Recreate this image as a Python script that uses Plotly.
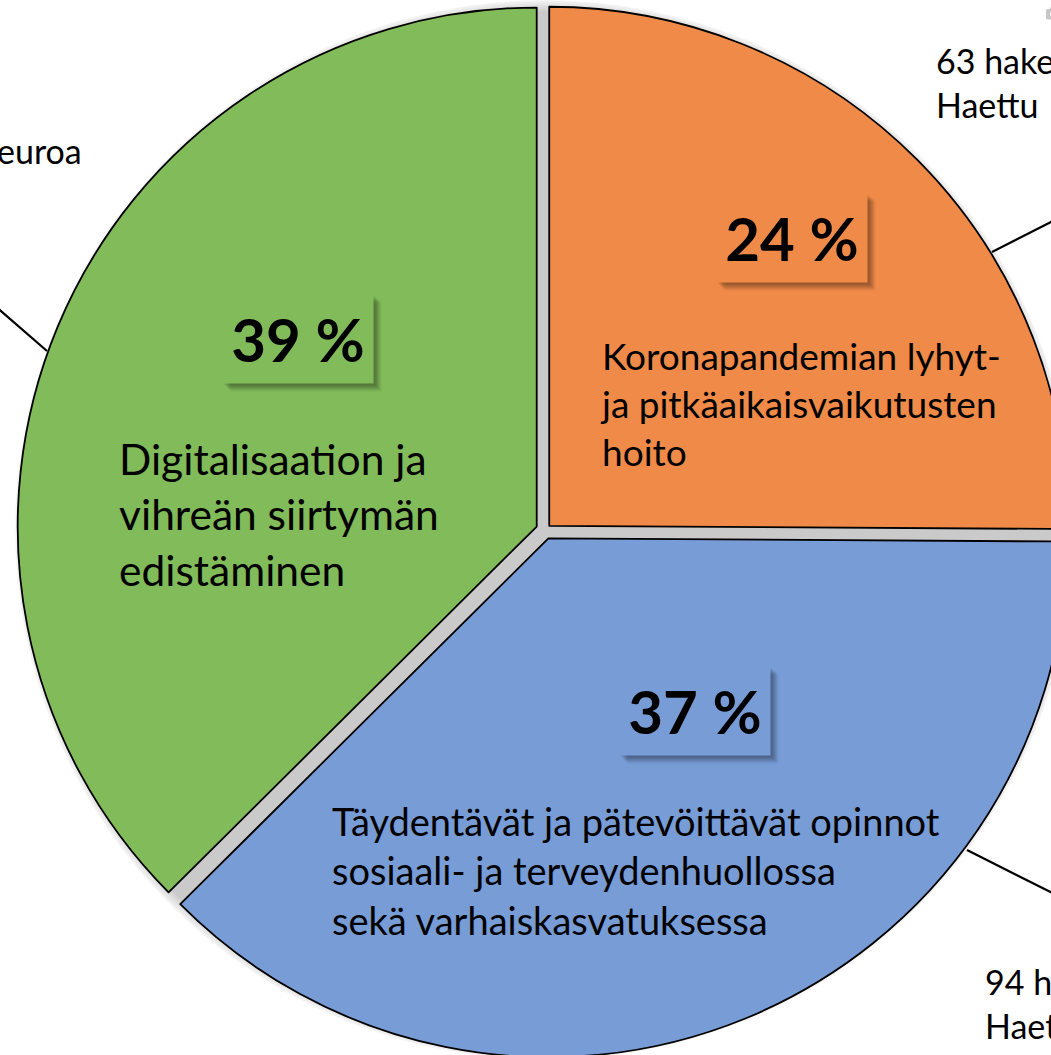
import plotly.graph_objects as go

# ---------------- data ----------------
categories = [
    "Koronapandemian lyhyt- ja pitkäaikaisvaikutusten hoito",
    "Täydentävät ja pätevöittävät opinnot sosiaali- ja terveydenhuollossa sekä varhaiskasvatuksessa",
    "Digitalisaation ja vihreän siirtymän edistäminen",
]
applications = [63, 94, 94]          # slice sizes (hakemukset)
funding_share = [24, 37, 39]         # shown percentages
desc_lines = [
    ["Koronapandemian lyhyt-", "ja pitkäaikaisvaikutusten", "hoito"],
    ["Täydentävät ja pätevöittävät opinnot", "sosiaali- ja terveydenhuollossa", "sekä varhaiskasvatuksessa"],
    ["Digitalisaation ja", "vihreän siirtymän", "edistäminen"],
]
outside_text = [
    "63 hakemusta<br>Haettu&nbsp;&nbsp;&nbsp;… euroa",
    "94 hakemusta<br>Haettu&nbsp;&nbsp;&nbsp;… euroa",
    "euroa",
]

# ---------------- style / layout ----------------
W, H = 1100, 1100
colors = ["#F08A48", "#789CD6", "#81BB5A"]
pulls = [0.0115, 0.0173, 0.0173]
CX, CY = 545, 530          # pie centre in pixels (from top-left)
R_DOMAIN = 528
FONT = "Lato"


def px(x):
    return x / W


def py(y):
    return 1 - y / H


fig = go.Figure()

# soft grey shadow behind the pie
for R in [519, 521, 523, 525, 527, 529, 530]:
    fig.add_trace(go.Pie(
        values=[1], labels=["shadow"], sort=False,
        marker=dict(colors=["rgba(0,0,0,0.03)"], line=dict(width=0)),
        textinfo="none", hoverinfo="skip", showlegend=False,
        domain=dict(x=[px(CX - R), px(CX + R)], y=[py(CY + R), py(CY - R)]),
    ))

fig.add_trace(go.Pie(
    labels=categories, values=applications, sort=False,
    direction="clockwise", rotation=0,
    marker=dict(colors=colors, line=dict(color="black", width=1.8)),
    pull=pulls, textinfo="none", hoverinfo="label+value",
    showlegend=False,
    domain=dict(x=[px(CX - R_DOMAIN), px(CX + R_DOMAIN)],
                y=[py(CY + R_DOMAIN), py(CY - R_DOMAIN)]),
))

annotations = []
box_centers = [(792, 238), (695, 711), (298, 339)]
desc_pos = [(598, 403, 37), (330, 870, 38), (117, 514, 42.5)]
shadow_layers = [(2, 2, 0.10), (4, 4, 0.12), (6, 6, 0.12), (8, 8, 0.06)]
for i in range(3):
    bx, by = box_centers[i]
    txt = f"<b>{funding_share[i]} %</b>"
    # soft drop shadow of the percentage box
    for sx, sy, a in shadow_layers:
        annotations.append(dict(
            x=px(bx + sx), y=py(by + sy), xref="paper", yref="paper",
            text="&nbsp;", showarrow=False, width=150, height=88,
            bgcolor=f"rgba(0,0,0,{a})", borderpad=0,
            font=dict(family=FONT, size=10, color="rgba(0,0,0,0)"),
            xanchor="center", yanchor="middle",
        ))
    annotations.append(dict(
        x=px(bx), y=py(by), xref="paper", yref="paper",
        text=txt, showarrow=False, width=150, height=88,
        bgcolor=colors[i], borderpad=0,
        font=dict(family=FONT, size=60, color="black"),
        xanchor="center", yanchor="middle", valign="middle",
    ))
    dx, dy, fs = desc_pos[i]
    annotations.append(dict(
        x=px(dx), y=py(dy), xref="paper", yref="paper",
        text="<br>".join(desc_lines[i]), showarrow=False, align="left",
        font=dict(family=FONT, size=fs, color="black"),
        xanchor="left", yanchor="middle",
    ))

out_pos = [(934, 82, "left"), (983, 1003, "left"), (84, 150, "right")]
for i in range(3):
    ox, oy, anc = out_pos[i]
    annotations.append(dict(
        x=px(ox), y=py(oy), xref="paper", yref="paper",
        text=outside_text[i], showarrow=False, align="left",
        font=dict(family=FONT, size=34, color="black"),
        xanchor=anc, yanchor="middle",
    ))

leader_lines = [((992, 252), (1100, 197)), ((967, 850), (1100, 917)), ((47, 351), (-5, 306))]
shapes = []
for (x0, y0), (x1, y1) in leader_lines:
    shapes.append(dict(type="line", xref="paper", yref="paper",
                       x0=px(x0), y0=py(y0), x1=px(x1), y1=py(y1),
                       line=dict(color="black", width=2.2)))

fig.update_layout(
    width=W, height=H,
    margin=dict(l=0, r=0, t=0, b=0),
    paper_bgcolor="white", plot_bgcolor="white",
    showlegend=False,
    annotations=annotations, shapes=shapes,
    font=dict(family=FONT),
)

fig.write_html(
    "out.html",
    post_script="document.body.style.margin='0';document.body.style.overflow='hidden';",
)
